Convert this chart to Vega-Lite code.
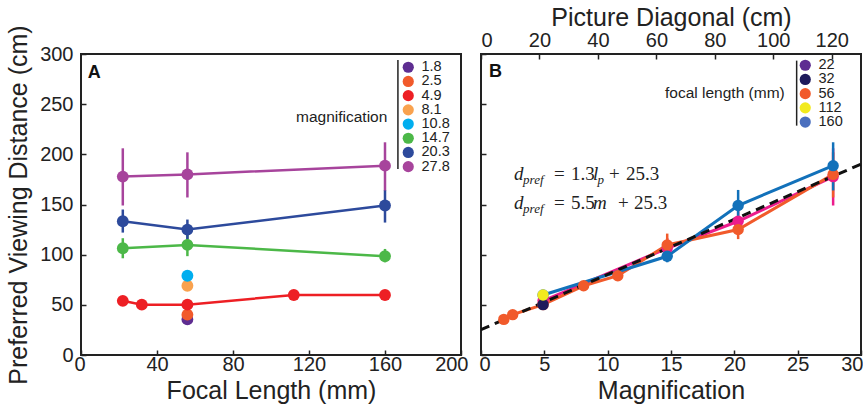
{
  "$schema": "https://vega.github.io/schema/vega-lite/v6.json",
  "padding": {"left": 5, "top": 4, "right": 0, "bottom": 0},
  "background": "white",
  "datasets": {
    "obs": [
      {"f": 22, "m": 4.9, "d": 54},
      {"f": 22, "m": 14.7, "d": 106.4, "lo": 96.4, "hi": 116.4},
      {"f": 22, "m": 20.3, "d": 133.3, "lo": 122, "hi": 145},
      {"f": 22, "m": 27.8, "d": 177.8, "lo": 149, "hi": 206},
      {"f": 32, "m": 4.9, "d": 50.2},
      {"f": 56, "m": 1.8, "d": 35.5},
      {"f": 56, "m": 2.5, "d": 40.2},
      {"f": 56, "m": 4.9, "d": 50.2},
      {"f": 56, "m": 8.1, "d": 69},
      {"f": 56, "m": 10.8, "d": 79},
      {"f": 56, "m": 14.7, "d": 109.7, "lo": 98.5, "hi": 121},
      {"f": 56, "m": 20.3, "d": 125, "lo": 115.5, "hi": 135},
      {"f": 56, "m": 27.8, "d": 180, "lo": 157, "hi": 202},
      {"f": 112, "m": 4.9, "d": 59.8},
      {"f": 160, "m": 4.9, "d": 59.8},
      {"f": 160, "m": 14.7, "d": 98.4, "lo": 92.4, "hi": 105.7},
      {"f": 160, "m": 20.3, "d": 149, "lo": 132, "hi": 164.5},
      {"f": 160, "m": 27.8, "d": 188.7, "lo": 164, "hi": 212}
    ]
  },
  "hconcat": [
    {
      "width": 380,
      "height": 301,
      "layer": [
        {
          "data": {"name": "obs"},
          "transform": [{"filter": "datum.lo != null"}],
          "mark": {"type": "rule", "strokeWidth": 2.5},
          "encoding": {
            "x": {"field": "f", "type": "quantitative", "scale": {"domain": [0, 200], "nice": false},
              "axis": {"values": [0, 20, 40, 60, 80, 100, 120, 140, 160, 180, 200], "labelExpr": "datum.value % 40 === 0 ? datum.label : ''", "title": "Focal Length (mm)", "labelFlush": true, "labelFlushOffset": 7, "labelPadding": 4, "titlePadding": 4}},
            "y": {"field": "lo", "type": "quantitative", "scale": {"domain": [0, 300], "nice": false},
              "axis": {"values": [0, 50, 100, 150, 200, 250, 300], "title": "Preferred Viewing Distance (cm)", "labelPadding": 13}},
            "y2": {"field": "hi"},
            "stroke": {"field": "m", "type": "nominal", "legend": null,
              "scale": {"domain": [27.8, 20.3, 14.7, 10.8, 8.1, 4.9, 2.5, 1.8], "range": ["#A7449C", "#2D4A9C", "#4CB848", "#00AEEF", "#F9A24F", "#ED1F24", "#F15A2B", "#5E2D91"]}}
          }
        },
        {
          "data": {"name": "obs"},
          "mark": {"type": "line", "strokeWidth": 2.5},
          "encoding": {
            "x": {"field": "f", "type": "quantitative"},
            "y": {"field": "d", "type": "quantitative"},
            "stroke": {"field": "m", "type": "nominal", "legend": null}
          }
        },
        {
          "data": {"name": "obs"},
          "mark": {"type": "point", "filled": true, "opacity": 1, "size": 140},
          "encoding": {
            "x": {"field": "f", "type": "quantitative"},
            "y": {"field": "d", "type": "quantitative"},
            "color": {"field": "m", "type": "nominal",
              "scale": {"domain": [1.8, 2.5, 4.9, 8.1, 10.8, 14.7, 20.3, 27.8], "range": ["#5E2D91", "#F15A2B", "#ED1F24", "#F9A24F", "#00AEEF", "#4CB848", "#2D4A9C", "#A7449C"]},
              "legend": {"orient": "none", "legendX": 215, "legendY": 6, "title": "magnification", "titleOrient": "left", "titleAngle": 0, "titleAnchor": "middle", "titleBaseline": "middle", "titleAlign": "left", "titlePadding": 13, "titleFontSize": 15.5, "titleFontWeight": "normal", "titleColor": "#222", "labelFontSize": 14.5, "labelColor": "#222", "symbolSize": 125, "symbolType": "circle", "rowPadding": -0.8, "labelOffset": 6, "padding": 0, "symbolStrokeWidth": 0, "symbolOpacity": 1}}
          }
        },
        {
          "data": {"values": [{"f": 166.8, "d": 294, "d2": 185.4}]},
          "mark": {"type": "rule", "strokeWidth": 1.5, "color": "#222"},
          "encoding": {
            "x": {"field": "f", "type": "quantitative"},
            "y": {"field": "d", "type": "quantitative"},
            "y2": {"field": "d2"}
          }
        },
        {
          "data": {"values": [{"t": "A", "f": 3.5, "d": 276}]},
          "mark": {"type": "text", "font": "Liberation Sans", "fontWeight": "bold", "fontSize": 18, "align": "left", "baseline": "alphabetic", "color": "#111"},
          "encoding": {
            "x": {"field": "f", "type": "quantitative"},
            "y": {"field": "d", "type": "quantitative"},
            "text": {"field": "t"}
          }
        }
      ]
    },
    {
      "width": 380,
      "height": 301,
      "layer": [
        {
          "layer": [
            {
              "data": {"name": "obs"},
              "transform": [{"filter": "datum.lo != null"}],
              "mark": {"type": "rule", "strokeWidth": 2.5},
              "encoding": {
                "x": {"field": "m", "type": "quantitative", "scale": {"domain": [0, 30], "nice": false},
                  "axis": {"values": [0, 5, 10, 15, 20, 25, 30], "title": "Magnification", "labelFlush": true, "labelFlushOffset": 2, "labelPadding": 4, "titlePadding": 4}},
                "y": {"field": "lo", "type": "quantitative", "scale": {"domain": [0, 300], "nice": false},
                  "axis": {"values": [0, 50, 100, 150, 200, 250, 300], "labels": false, "title": null}},
                "y2": {"field": "hi"},
                "stroke": {"field": "f", "type": "nominal", "legend": null,
                  "scale": {"domain": [160, 112, 56, 32, 22], "range": ["#1271BA", "#F2EA1E", "#F15A2B", "#1E1A5C", "#EC1C8C"]}}
              }
            },
            {
              "data": {"name": "obs"},
              "mark": {"type": "line", "strokeWidth": 3},
              "encoding": {
                "x": {"field": "m", "type": "quantitative"},
                "y": {"field": "d", "type": "quantitative"},
                "stroke": {"field": "f", "type": "nominal", "legend": null}
              }
            },
            {
              "data": {"values": [{"m": 0, "d": 25.3}, {"m": 30, "d": 190.3}]},
              "mark": {"type": "line", "strokeWidth": 3, "color": "#111", "strokeDash": [9, 6], "clip": true},
              "encoding": {
                "x": {"field": "m", "type": "quantitative"},
                "y": {"field": "d", "type": "quantitative"}
              }
            },
            {
              "data": {"name": "obs"},
              "transform": [{"filter": "datum.f != 32 && datum.f != 112"}],
              "mark": {"type": "point", "filled": true, "opacity": 1, "size": 130},
              "encoding": {
                "x": {"field": "m", "type": "quantitative"},
                "y": {"field": "d", "type": "quantitative"},
                "fill": {"field": "f", "type": "nominal", "legend": null,
                  "scale": {"domain": [160, 112, 56, 32, 22], "range": ["#1271BA", "#F2EA1E", "#F15A2B", "#1E1A5C", "#EC1C8C"]}}
              }
            },
            {
              "data": {"name": "obs"},
              "transform": [{"filter": "datum.f == 32 || datum.f == 112"}],
              "mark": {"type": "point", "filled": true, "opacity": 1, "size": 130},
              "encoding": {
                "x": {"field": "m", "type": "quantitative"},
                "y": {"field": "d", "type": "quantitative"},
                "color": {"field": "f", "type": "nominal",
                  "scale": {"domain": [22, 32, 56, 112, 160], "range": ["#5E2D91", "#1E1A5C", "#F15A2B", "#F2EA1E", "#4A6FBE"]},
                  "legend": {"orient": "none", "legendX": 184, "legendY": 4, "title": "focal length (mm)", "titleOrient": "left", "titleAngle": 0, "titleAnchor": "middle", "titleBaseline": "middle", "titleAlign": "left", "titlePadding": 13, "titleFontSize": 15.5, "titleFontWeight": "normal", "titleColor": "#222", "labelFontSize": 14.5, "labelColor": "#222", "symbolSize": 125, "symbolType": "circle", "rowPadding": -0.8, "labelOffset": 6, "padding": 0, "symbolStrokeWidth": 0, "symbolOpacity": 1}}
              }
            },
            {
              "data": {"values": [{"m": 24.92, "d": 293.4, "d2": 228.6}]},
              "mark": {"type": "rule", "strokeWidth": 1.5, "color": "#222"},
              "encoding": {
                "x": {"field": "m", "type": "quantitative"},
                "y": {"field": "d", "type": "quantitative"},
                "y2": {"field": "d2"}
              }
            },
            {
              "data": {"values": [
                {"t": "=", "m": 5.76, "d": 174.5}, {"t": "1.3", "m": 7.1, "d": 174.5}, {"t": "+", "m": 10.1, "d": 174.5}, {"t": "25.3", "m": 11.45, "d": 174.5},
                {"t": "=", "m": 5.76, "d": 145.6}, {"t": "5.5", "m": 7.1, "d": 145.6}, {"t": "+", "m": 10.82, "d": 145.6}, {"t": "25.3", "m": 12.08, "d": 145.6}
              ]},
              "mark": {"type": "text", "font": "Liberation Serif", "fontSize": 19, "align": "left", "baseline": "alphabetic", "color": "#222"},
              "encoding": {
                "x": {"field": "m", "type": "quantitative"},
                "y": {"field": "d", "type": "quantitative"},
                "text": {"field": "t"}
              }
            },
            {
              "data": {"values": [
                {"t": "d", "m": 2.61, "d": 174.5}, {"t": "l", "m": 8.84, "d": 174.5},
                {"t": "d", "m": 2.61, "d": 145.6}, {"t": "m", "m": 8.84, "d": 145.6}
              ]},
              "mark": {"type": "text", "font": "Liberation Serif", "fontStyle": "italic", "fontSize": 19, "align": "left", "baseline": "alphabetic", "color": "#222"},
              "encoding": {
                "x": {"field": "m", "type": "quantitative"},
                "y": {"field": "d", "type": "quantitative"},
                "text": {"field": "t"}
              }
            },
            {
              "data": {"values": [
                {"t": "pref", "m": 3.32, "d": 174.5}, {"t": "p", "m": 9.2, "d": 174.5},
                {"t": "pref", "m": 3.32, "d": 145.6}
              ]},
              "mark": {"type": "text", "font": "Liberation Serif", "fontStyle": "italic", "fontSize": 13, "align": "left", "baseline": "alphabetic", "dy": 4, "color": "#222"},
              "encoding": {
                "x": {"field": "m", "type": "quantitative"},
                "y": {"field": "d", "type": "quantitative"},
                "text": {"field": "t"}
              }
            },
            {
              "data": {"values": [{"t": "B", "m": 0.63, "d": 277}]},
              "mark": {"type": "text", "font": "Liberation Sans", "fontWeight": "bold", "fontSize": 18, "align": "left", "baseline": "alphabetic", "color": "#111"},
              "encoding": {
                "x": {"field": "m", "type": "quantitative"},
                "y": {"field": "d", "type": "quantitative"},
                "text": {"field": "t"}
              }
            }
          ]
        },
        {
          "data": {"values": [{"diag": 0}, {"diag": 130}]},
          "mark": {"type": "point", "opacity": 0},
          "encoding": {
            "x": {"field": "diag", "type": "quantitative", "scale": {"domain": [0, 130], "nice": false},
              "axis": {"orient": "top", "values": [0, 20, 40, 60, 80, 100, 120], "title": "Picture Diagonal (cm)", "labelFlush": true, "labelFlushOffset": 0, "titlePadding": 0}}
          }
        }
      ],
      "resolve": {"scale": {"x": "independent"}, "axis": {"x": "independent"}}
    }
  ],
  "resolve": {
    "scale": {"color": "independent", "stroke": "independent", "fill": "independent"},
    "legend": {"color": "independent", "stroke": "independent", "fill": "independent"}
  },
  "spacing": 20,
  "bounds": "flush",
  "config": {
    "font": "Liberation Sans",
    "view": {"stroke": "#222", "strokeWidth": 2},
    "axis": {
      "domain": false,
      "grid": false,
      "labelFontSize": 20,
      "labelColor": "#222",
      "labelFont": "Liberation Sans",
      "titleFont": "Liberation Sans",
      "titleFontSize": 25,
      "titleFontWeight": "normal",
      "titleColor": "#222",
      "tickSize": -5,
      "tickColor": "#222",
      "tickWidth": 1.5,
      "labelPadding": 9,
      "labelOverlap": false,
      "titlePadding": 8
    }
  }
}
